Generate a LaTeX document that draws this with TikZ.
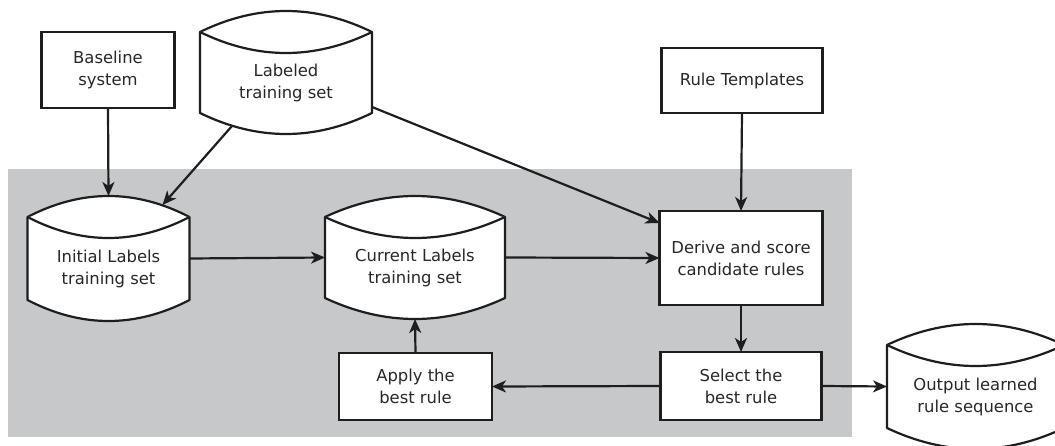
\documentclass[tikz,border=0pt]{standalone}
\usepackage{fontspec}
\setmainfont{DejaVu Sans}
\usetikzlibrary{arrows.meta,calc}
\pgfdeclarelayer{bglayer}
\pgfdeclarelayer{midlayer}
\pgfsetlayers{bglayer,midlayer,main}
\definecolor{panel}{RGB}{199,200,202}
\definecolor{ink}{RGB}{30,30,30}
\definecolor{txt}{RGB}{40,40,40}
\newcommand{\storeoutline}[1]{%
  \filldraw[storeline] ($(#1.north west)+(0,-21)$) .. controls ($(#1.north west)!0.3333!(#1.north east)+(0,-49)$) and ($(#1.north west)!0.6667!(#1.north east)+(0,-49)$) .. ($(#1.north east)+(0,-21)$) -- (#1.south east) .. controls ($(#1.south west)!0.6667!(#1.south east)+(0,28)$) and ($(#1.south west)!0.3333!(#1.south east)+(0,28)$) .. (#1.south west) -- cycle;
  \draw[storeline] ($(#1.north east)+(0,-21)$) .. controls ($(#1.north west)!0.6667!(#1.north east)+(0,7)$) and ($(#1.north west)!0.3333!(#1.north east)+(0,7)$) .. ($(#1.north west)+(0,-21)$);}
\tikzset{
  txtstyle/.style={font=\fontsize{16.4}{22}\selectfont, text=txt, align=center, inner sep=0pt, outer sep=0pt},
  procbox/.style={txtstyle, draw=ink, line width=2.2pt, fill=white, rectangle},
  storebody/.style={txtstyle, rectangle},
  storeline/.style={draw=ink, line width=2.2pt, fill=white, line join=round},
  arr/.style={draw=ink, line width=2.2pt, -{Stealth[length=14pt,width=12pt,inset=4pt]}}
}
\begin{document}
\begin{tikzpicture}[x=1pt,y=-1pt]
\useasboundingbox (0,0) rectangle (1055,446);
\begin{pgfonlayer}{bglayer}
  \fill[panel] (8,169) rectangle (852,437);
\end{pgfonlayer}

% process boxes
\node[procbox, minimum width=133, minimum height=76] (base) at (108,70) {Baseline\\system};
\node[procbox, minimum width=161, minimum height=65] (rt) at (742,80.5) {Rule Templates};
\node[procbox, minimum width=163, minimum height=94] (derive) at (741,258) {Derive and score\\candidate rules};
\node[procbox, minimum width=161, minimum height=68] (select) at (741,386) {Select the\\best rule};
\node[procbox, minimum width=153, minimum height=67] (apply) at (415.5,386.5) {Apply the\\best rule};

% data stores (body part of the shape)
\node[storebody, minimum width=172, minimum height=60] (lab) at (286,83) {Labeled\\training set};
\node[storebody, minimum width=162, minimum height=62] (init) at (108.5,269) {Initial Labels\\training set};
\node[storebody, minimum width=180, minimum height=60] (cur) at (415,268) {Current Labels\\training set};
\node[storebody, minimum width=177, minimum height=62] (out) at (975.5,397) {Output learned\\rule sequence};

\begin{pgfonlayer}{midlayer}
  \storeoutline{lab}
  \storeoutline{init}
  \storeoutline{cur}
  \storeoutline{out}
\end{pgfonlayer}

% connectors
\draw[arr] (base.south) -- ($(init.north)+(0,-42)$);
\draw[arr] ($(lab.south west)+(32,13)$) -- ($(init.north east)+(-27,-33)$);
\draw[arr] ($(lab.south east)+(0,-6)$) -- ($(derive.north west)+(0,12)$);
\draw[arr] ($(init.east)+(0,-10.5)$) -- ($(cur.west)+(0,-10.5)$);
\draw[arr] ($(cur.east)+(0,-10.5)$) -- (derive.west);
\draw[arr] (rt.south) -- (derive.north);
\draw[arr] (derive.south) -- (select.north);
\draw[arr] (select.west) -- (apply.east);
\draw[arr] (apply.north) -- ($(cur.south)+(0,21)$);
\draw[arr] (select.east) -- ($(out.west)+(0,-10.5)$);
\end{tikzpicture}
\end{document}
